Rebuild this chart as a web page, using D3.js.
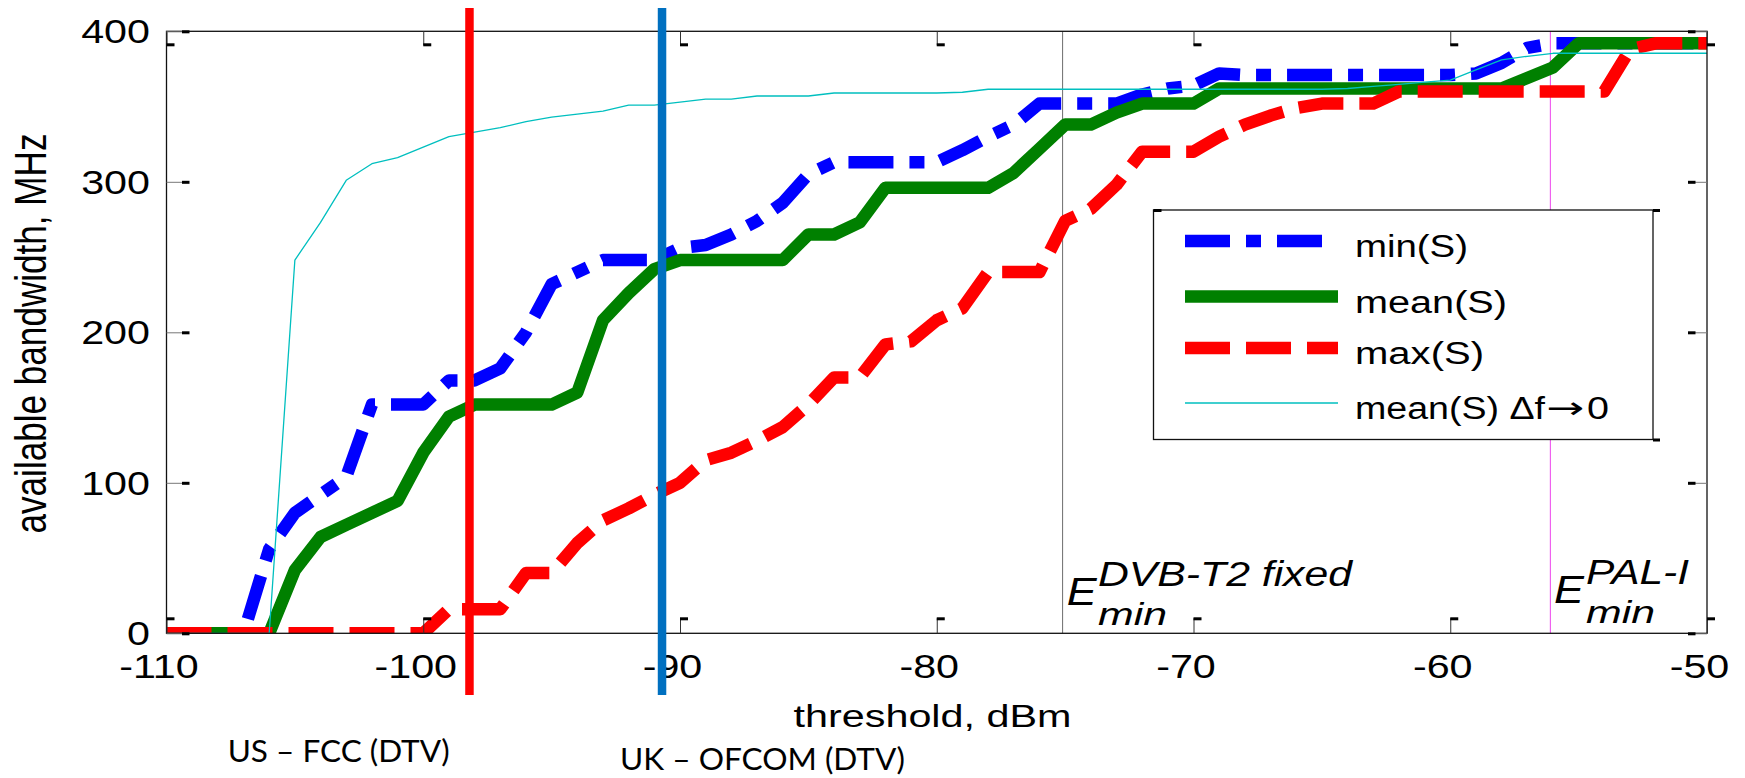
<!DOCTYPE html>
<html>
<head>
<meta charset="utf-8">
<script src="https://cdn.jsdelivr.net/npm/d3@7"></script>
<style>
  html, body { margin: 0; padding: 0; background: #fff; }
  svg { display: block; }
  text { font-family: "Liberation Sans", Arial, Helvetica, sans-serif; fill: #000; }
</style>
</head>
<body>
<svg id="chart" width="1745" height="778"></svg>
<script>
// Detection threshold grid (dBm)
const thresholds = [
  -110, -109, -108, -107, -106, -105, -104, -103, -102, -101,
  -100, -99, -98, -97, -96, -95, -94, -93, -92, -91,
  -90, -89, -88, -87, -86, -85, -84, -83, -82, -81,
  -80, -79, -78, -77, -76, -75, -74, -73, -72, -71,
  -70, -69, -68, -67, -66, -65, -64, -63, -62, -61,
  -60, -59, -58, -57, -56, -55, -54, -53, -52, -51,
  -50
];

// Available bandwidth (MHz) per threshold
const minS = [
  0, 0, 0, 0, 56, 80, 92, 104, 152, 152,
  152, 168, 168, 176, 200, 232, 240, 248, 248, 248,
  256, 258, 265, 274, 286, 305, 313, 313, 313, 313,
  313, 321, 330, 338, 352, 352, 352, 352, 358, 362,
  364, 372, 371, 371, 371, 371, 371, 371, 371, 371,
  371, 372, 379, 389, 392, 392, 392, 392, 392, 392,
  392
];
const meanS = [
  0, 0, 0, 0, 0, 42, 64, 72, 80, 88,
  120, 144, 152, 152, 152, 152, 160, 208, 226, 242,
  248, 248, 248, 248, 248, 265, 265, 273, 296, 296,
  296, 296, 296, 306, 322, 338, 338, 346, 352, 352,
  352, 362, 362, 362, 362, 362, 362, 362, 362, 362,
  362, 362, 362, 369, 376, 392, 392, 392, 392, 392,
  392
];
const maxS = [
  0, 0, 0, 0, 0, 0, 0, 0, 0, 0,
  0, 16, 16, 16, 40, 40, 60, 75, 83, 92,
  100, 115, 120, 128, 137, 152, 170, 170, 192, 194,
  208, 216, 240, 240, 240, 274, 282, 298, 320, 320,
  320, 330, 338, 344, 349, 352, 352, 352, 360, 360,
  360, 360, 360, 360, 360, 360, 360, 388, 392, 392,
  392
];
const meanSfine = [
  0, 0, 0, 0, 0, 248, 273, 301, 312, 316,
  323, 330, 333, 336, 340, 343, 345, 347, 351, 351,
  353, 355, 355, 357, 357, 357, 359, 359, 359, 359,
  359, 359.5, 361.5, 361.5, 361.5, 361.5, 361.5, 361.5, 361.5, 361.5,
  361.5, 361.5, 361.5, 361.5, 361.5, 361.5, 362, 363.4, 364.8, 366.2,
  367.6, 374.3, 381, 383.4, 385.4, 385.4, 385.4, 385.4, 385.4, 385.4,
  385.4
];

const seriesNames = ["min(S)", "mean(S)", "max(S)", "mean(S) \u0394f"];

// Axis ticks
const xTicks = [-110, -100, -90, -80, -70, -60, -50];
const yTicks = [0, 100, 200, 300, 400];

// Minimum field strength references (dBm)
const eMinLevels = [-75.1, -56.1];
const eMinLabels = ["DVB-T2 fixed", "PAL-I"];

// Regulatory sensing thresholds (dBm)
const regThresholds = [-98.2, -90.7];
const regLabels = ["US \u2013 FCC (DTV)", "UK \u2013 OFCOM (DTV)"];

const svg = d3.select("#chart");
svg.append("rect").attr("width", 1745).attr("height", 778).attr("fill", "#fff");

const x = d3.scaleLinear().domain([-110, -50]).range([166.5, 1707]);
const y = d3.scaleLinear().domain([0, 400]).range([633.3, 31.3]);
const [pL, pR] = x.range();
const pB = y(0), pT = y(400);

// widen glyphs horizontally by factor k while keeping x/y anchoring
function stretch(sel, k) {
  sel.each(function () {
    const len = this.getComputedTextLength();
    d3.select(this).attr("textLength", len * k).attr("lengthAdjust", "spacingAndGlyphs");
  });
}

svg.append("clipPath").attr("id", "plotClip")
  .append("rect").attr("x", pL).attr("y", pT).attr("width", pR - pL).attr("height", pB - pT);

// Thin reference lines for E_min levels
const refColors = ["#7a7a7a", "#ee55ee"];
svg.append("g").selectAll("line").data(eMinLevels).join("line")
  .attr("x1", d => x(d)).attr("x2", d => x(d))
  .attr("y1", pT).attr("y2", pB)
  .attr("stroke", (d, i) => refColors[i]).attr("stroke-width", 1.1);

// Curves
const pts = vals => thresholds.map((t, i) => [t, vals[i]]);
const line = d3.line().x(d => x(d[0])).y(d => y(d[1]));
const styles = [
  { vals: minS, color: "#0000ff", w: 12.5, dash: "45 16 15 16" },
  { vals: meanS, color: "#008000", w: 12.5, dash: null },
  { vals: maxS, color: "#ff0000", w: 12.5, dash: "45 16" },
  { vals: meanSfine, color: "#00bfbf", w: 1.3, dash: null }
];
const curves = svg.append("g").attr("clip-path", "url(#plotClip)");
styles.forEach(s => {
  curves.append("path").datum(pts(s.vals))
    .attr("d", line)
    .attr("fill", "none")
    .attr("stroke", s.color)
    .attr("stroke-width", s.w)
    .attr("stroke-linejoin", "round")
    .attr("stroke-linecap", "butt")
    .attr("stroke-dasharray", s.dash);
});

// Axes box
svg.append("rect").attr("x", pL).attr("y", pT).attr("width", pR - pL).attr("height", pB - pT)
  .attr("fill", "none").attr("stroke", "#111").attr("stroke-width", 1.3);

const fixAxis = g => {
  g.attr("font-family", null).attr("font-size", null);
  g.select(".domain").remove();
  g.selectAll(".tick line").attr("stroke", "#333").attr("stroke-width", 1);
};

// Bottom axis
const gxB = svg.append("g").attr("transform", `translate(0,${pB})`)
  .call(d3.axisBottom(x).tickValues(xTicks).tickSize(-15).tickFormat(d => String(d)));
fixAxis(gxB);
gxB.selectAll(".tick text")
  .attr("x", -8).attr("y", 45).attr("dy", null)
  .attr("font-size", 32.5).attr("text-anchor", "middle")
  .call(stretch, 1.27);

// Top axis
const gxT = svg.append("g").attr("transform", `translate(0,${pT})`)
  .call(d3.axisTop(x).tickValues(xTicks).tickSize(-14).tickFormat(""));
fixAxis(gxT);

// Left axis
const gyL = svg.append("g").attr("transform", `translate(${pL},0)`)
  .call(d3.axisLeft(y).tickValues(yTicks).tickSize(-15.5).tickFormat(d => String(d)));
fixAxis(gyL);
gyL.selectAll(".tick line").attr("stroke", "#777");
gyL.selectAll(".tick text")
  .attr("x", -16.5).attr("y", 11.5).attr("dy", null)
  .attr("font-size", 33).attr("text-anchor", "end")
  .call(stretch, 1.25);

// Right axis
const gyR = svg.append("g").attr("transform", `translate(${pR},0)`)
  .call(d3.axisRight(y).tickValues(yTicks).tickSize(-12).tickFormat(""));
fixAxis(gyR);
gyR.selectAll(".tick line").attr("stroke", "#777");

// Small tick end marks
const marks = svg.append("g").attr("fill", "#000");
marks.selectAll(".mb").data(xTicks).join("rect")
  .attr("x", d => x(d)).attr("y", pB - 16).attr("width", 8).attr("height", 3);
marks.selectAll(".mt").data(xTicks).join("rect")
  .attr("x", d => x(d)).attr("y", pT + 12).attr("width", 8).attr("height", 3);
marks.selectAll(".ml").data(yTicks).join("rect")
  .attr("x", pL + 15.5).attr("y", d => y(d) - 1).attr("width", 7.5).attr("height", 3);
marks.selectAll(".mr").data(yTicks).join("rect")
  .attr("x", pR - 19).attr("y", d => y(d) - 1).attr("width", 7.5).attr("height", 3);

// Axis titles
svg.append("text")
  .attr("x", 793.5).attr("y", 726.7)
  .attr("font-size", 31)
  .attr("textLength", 278).attr("lengthAdjust", "spacingAndGlyphs")
  .text("threshold, dBm");

svg.append("text")
  .attr("transform", "translate(46,333.5) scale(1.26,1) rotate(-90)")
  .attr("text-anchor", "middle")
  .attr("font-size", 35)
  .attr("textLength", 400).attr("lengthAdjust", "spacingAndGlyphs")
  .text("available bandwidth, MHz");

// E_min annotations
const ann = svg.append("g").attr("font-style", "italic");
const annBox = [
  { ex: 1066.7, ey: 605, sx: 1098, supW: 254, subW: 69 },
  { ex: 1554, ey: 603, sx: 1586, supW: 103, subW: 69 }
];
eMinLabels.forEach((lab, i) => {
  const b = annBox[i];
  ann.append("text").attr("x", b.ex).attr("y", b.ey)
    .attr("font-size", 39).text("E").call(stretch, 1.15);
  ann.append("text").attr("x", b.sx).attr("y", b.ey - 19.5)
    .attr("font-size", 35)
    .attr("textLength", b.supW).attr("lengthAdjust", "spacingAndGlyphs")
    .text(lab);
  ann.append("text").attr("x", b.sx).attr("y", b.ey + 19.5)
    .attr("font-size", 32)
    .attr("textLength", b.subW).attr("lengthAdjust", "spacingAndGlyphs")
    .text("min");
});

// Legend
const lg = svg.append("g");
lg.append("rect").attr("x", 1153.5).attr("y", 210).attr("width", 499.5).attr("height", 229.5)
  .attr("fill", "#fff").attr("stroke", "#111").attr("stroke-width", 1.3);
lg.append("rect").attr("x", 1153.5).attr("y", 209).attr("width", 8).attr("height", 3).attr("fill", "#000");
lg.append("rect").attr("x", 1653).attr("y", 209).attr("width", 7).attr("height", 3).attr("fill", "#000");
lg.append("rect").attr("x", 1653).attr("y", 438.5).attr("width", 7).attr("height", 3).attr("fill", "#000");
const legendRowY = [241, 296.5, 348, 403];
const legendTextW = [113, 152, 129, 190];
styles.forEach((s, i) => {
  lg.append("line")
    .attr("x1", 1185).attr("x2", 1338)
    .attr("y1", legendRowY[i]).attr("y2", legendRowY[i])
    .attr("stroke", s.color).attr("stroke-width", s.w)
    .attr("stroke-dasharray", s.dash);
  lg.append("text")
    .attr("x", 1355).attr("y", legendRowY[i] + 16)
    .attr("font-size", 31)
    .attr("textLength", legendTextW[i]).attr("lengthAdjust", "spacingAndGlyphs")
    .text(seriesNames[i]);
});
// long arrow and limit value of the fine-resolution entry
const lastRow = legendRowY[3] + 16;
lg.append("text").attr("x", 1546).attr("y", lastRow - 1)
  .style("font-family", "'DejaVu Sans', sans-serif")
  .attr("font-size", 30)
  .attr("textLength", 38).attr("lengthAdjust", "spacingAndGlyphs")
  .text("\u2192");
lg.append("text").attr("x", 1587).attr("y", lastRow)
  .attr("font-size", 31)
  .attr("textLength", 22).attr("lengthAdjust", "spacingAndGlyphs")
  .text("0");

// Regulatory threshold markers
const regColors = ["#ff0000", "#0070c0"];
svg.append("g").selectAll("line").data(regThresholds).join("line")
  .attr("x1", d => x(d)).attr("x2", d => x(d))
  .attr("y1", 8).attr("y2", 695)
  .attr("stroke", (d, i) => regColors[i]).attr("stroke-width", 8.5);

const regTextPos = [
  { x: 227.7, y: 761.7, w: 222 },
  { x: 620, y: 770, w: 285 }
];
regLabels.forEach((lab, i) => {
  svg.append("text")
    .attr("x", regTextPos[i].x).attr("y", regTextPos[i].y)
    .style("font-family", "Lato, 'Open Sans', sans-serif")
    .attr("font-size", 30)
    .attr("textLength", regTextPos[i].w).attr("lengthAdjust", "spacingAndGlyphs")
    .text(lab);
});
</script>
</body>
</html>
